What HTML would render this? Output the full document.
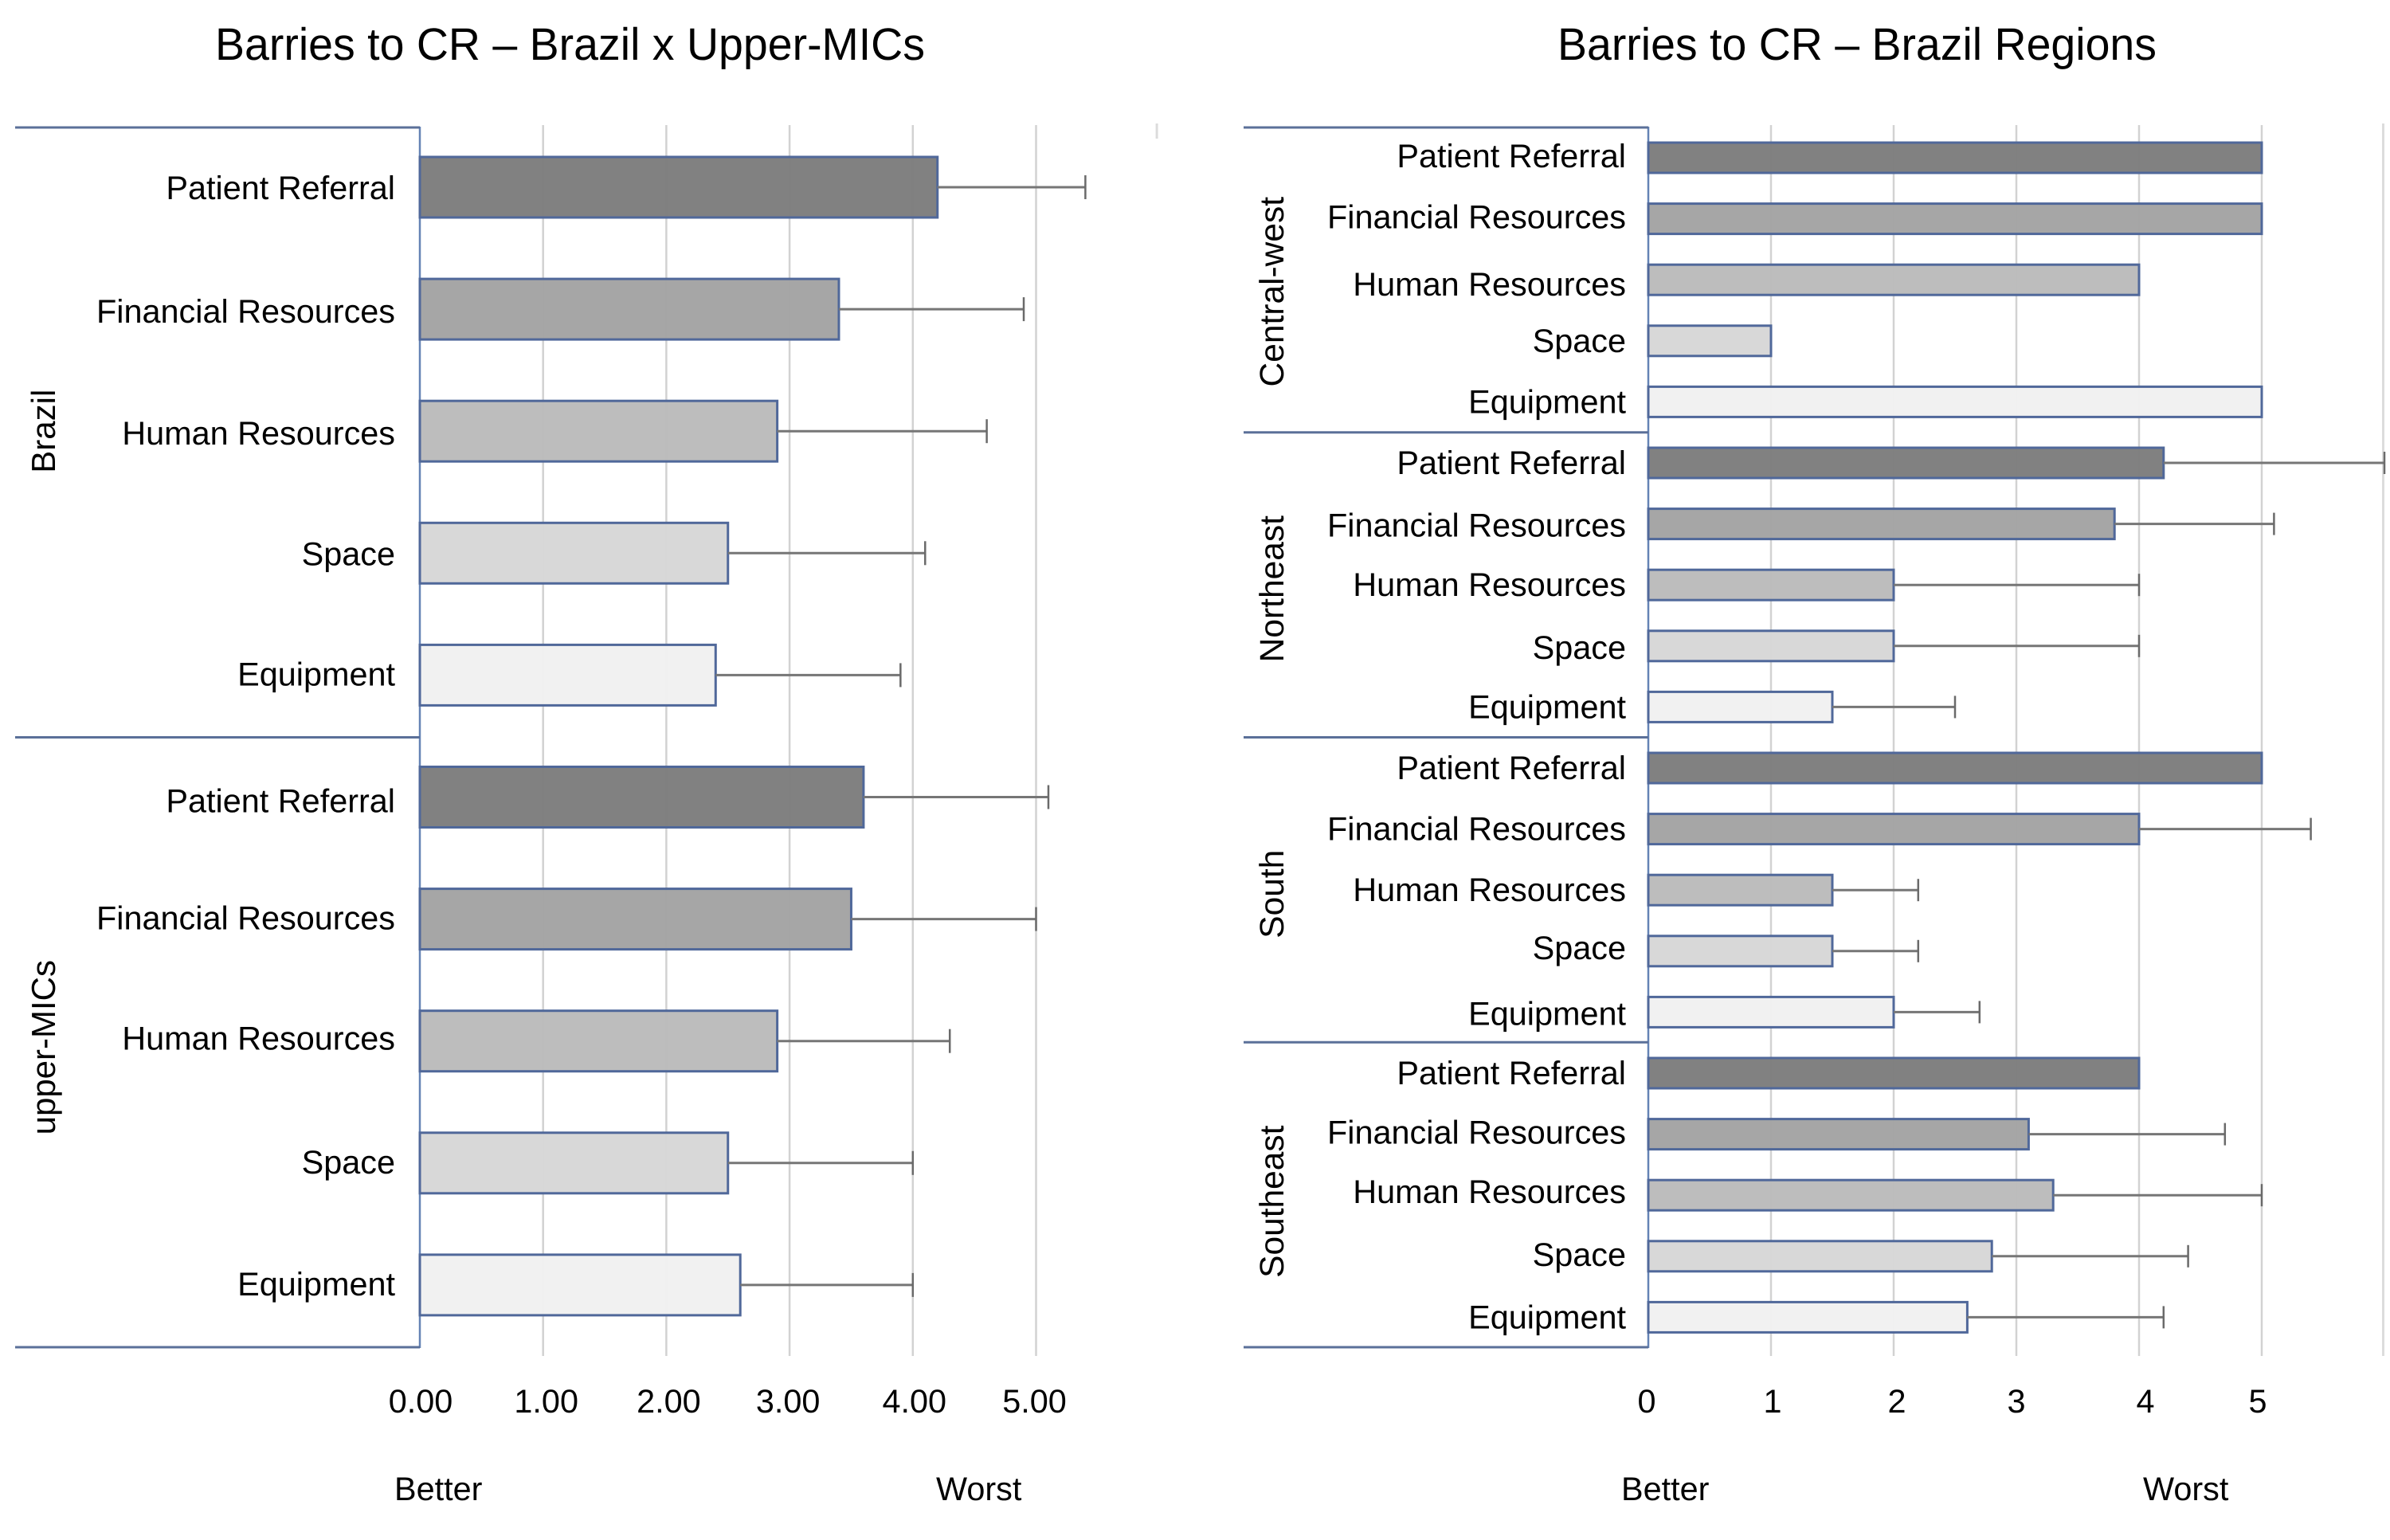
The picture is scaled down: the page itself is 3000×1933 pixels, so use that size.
<!DOCTYPE html>
<html lang="en">
<head>
<meta charset="utf-8">
<title>Barries to CR</title>
<style>
html,body{margin:0;padding:0;background:#fff;width:3000px;height:1933px;overflow:hidden}
svg{display:block}
text{font-family:"Liberation Sans",Arial,sans-serif;fill:#000;text-rendering:geometricPrecision}
</style>
</head>
<body>
<svg id="chart" xmlns="http://www.w3.org/2000/svg" width="3000" height="1933" viewBox="0 0 3000 1933">
  <rect x="0" y="0" width="3000" height="1933" fill="#ffffff"/>
  <text x="270" y="75" font-size="57" textLength="891" lengthAdjust="spacingAndGlyphs">Barries to CR – Brazil x Upper-MICs</text>
  <text x="1955" y="75" font-size="57" textLength="752" lengthAdjust="spacingAndGlyphs">Barries to CR – Brazil Regions</text>
  <text x="495" y="1883" font-size="41.4">Better</text>
  <text x="1175" y="1883" font-size="41.4">Worst</text>
  <text x="2035" y="1883" font-size="41.4">Better</text>
  <text x="2690" y="1883" font-size="41.4">Worst</text>
</svg>
<script>
const categories = ['Patient Referral', 'Financial Resources', 'Human Resources', 'Space', 'Equipment'];

const leftGroups = ['Brazil', 'upper-MICs'];
const brazilValues = [4.2, 3.4, 2.9, 2.5, 2.4];
const brazilUpper = [5.4, 4.9, 4.6, 4.1, 3.9];
const upperMicsValues = [3.6, 3.5, 2.9, 2.5, 2.6];
const upperMicsUpper = [5.1, 5.0, 4.3, 4.0, 4.0];
const leftTickValues = [0, 1, 2, 3, 4, 5];
const leftTickLabels = ['0.00', '1.00', '2.00', '3.00', '4.00', '5.00'];

const rightGroups = ['Central-west', 'Northeast', 'South', 'Southeast'];
const centralWestValues = [5, 5, 4, 1, 5];
const centralWestUpper = [null, null, null, null, null];
const northeastValues = [4.2, 3.8, 2, 2, 1.5];
const northeastUpper = [6, 5.1, 4, 4, 2.5];
const southValues = [5, 4, 1.5, 1.5, 2];
const southUpper = [null, 5.4, 2.2, 2.2, 2.7];
const southeastValues = [4, 3.1, 3.3, 2.8, 2.6];
const southeastUpper = [null, 4.7, 5, 4.4, 4.2];
const rightTickValues = [0, 1, 2, 3, 4, 5];
const rightTickLabels = ['0', '1', '2', '3', '4', '5'];

const svg = document.getElementById('chart');
const NS = 'http://www.w3.org/2000/svg';
const barFills = ['#7d7d7d', '#a3a3a3', '#bbbbbb', '#d7d7d7', '#f1f1f1'];

function make(tag, attrs, content) {
  const el = document.createElementNS(NS, tag);
  for (const k in attrs) el.setAttribute(k, attrs[k]);
  if (content !== undefined) el.textContent = content;
  svg.appendChild(el);
  return el;
}

function drawPanel(cfg) {
  const x = cfg.x;
  const y = cfg.y;

  // gridlines
  cfg.tickValues.forEach(function (t) {
    if (t === 0) return;
    const g = make('line', {x1: x(t), x2: x(t), y1: 157, y2: 1702, stroke: '#d2d2d2', 'stroke-width': 2.5});
    
    
  });
  const extra = make('line', {x1: x(cfg.extraGrid), x2: x(cfg.extraGrid), y1: 155, y2: cfg.extraGridEnd, stroke: '#dcdcdc', 'stroke-width': 3});
  
  

  // tick labels
  cfg.tickValues.forEach(function (t, i) {
    const tl = make('text', {x: x(t) + cfg.tickNudge[i], y: 1773, 'font-size': 41.4, 'text-anchor': 'middle'}, cfg.tickLabels[i]);
    
    
  });

  // vertical axis
  const axis = make('line', {x1: x(0), x2: x(0), y1: 159, y2: 1692, stroke: '#6583b5', 'stroke-width': 2.5});
  
  

  // group separators
  for (let g = 0; g <= cfg.series.length; g++) {
    const sepY = cfg.sepTop + (cfg.sepBottom - cfg.sepTop) * g / cfg.series.length;
    const sep = make('line', {x1: cfg.sepLeft, x2: x(0), y1: sepY, y2: sepY, stroke: '#5b7099', 'stroke-width': 3});
    
    
  }

  // rows
  cfg.series.forEach(function (s, g) {
    const first = y(g * categories.length);
    const last = y(g * categories.length + categories.length - 1);
    const mid = (first + last) / 2 + cfg.groupLabelShift[g];
    const gl = make('text', {x: cfg.groupX, y: mid, 'font-size': cfg.groupFont, 'text-anchor': 'middle', transform: 'rotate(-90 ' + cfg.groupX + ' ' + mid + ')'}, cfg.groups[g]);
    
    

    categories.forEach(function (c, i) {
      const row = g * categories.length + i;
      const cy = y(row);
      const v = s.values[i];
      const up = s.upper[i];

      const lab = make('text', {x: cfg.labelX, y: cy + cfg.labelDy + cfg.labelNudge[row], 'font-size': 41.4, 'text-anchor': 'end'}, c);
      
      

      const bar = make('rect', {x: x(0), y: cy - cfg.barH / 2, width: x(v) - x(0), height: cfg.barH, fill: barFills[i], 'fill-opacity': 0.97, stroke: '#50689a', 'stroke-width': 3});
      
      

      if (up !== null) {
        const w = make('line', {x1: x(v), x2: x(up), y1: cy, y2: cy, stroke: '#767676', 'stroke-width': 3});
        
        
        const cap = make('line', {x1: x(up), x2: x(up), y1: cy - cfg.capH / 2, y2: cy + cfg.capH / 2, stroke: '#6a6a6a', 'stroke-width': 2.5});
        
        
      }
    });
  });
}

drawPanel({
  prefix: 'left',
  x: function (v) { return 527 + 154.7 * v; },
  y: function (r) { return 235 + 153.1 * r; },
  series: [
    {values: brazilValues, upper: brazilUpper},
    {values: upperMicsValues, upper: upperMicsUpper}
  ],
  groups: leftGroups,
  groupLabelShift: [0, 8],
  groupFont: 42,
  tickValues: leftTickValues,
  tickLabels: leftTickLabels,
  tickNudge: [1, 4, 3, -2, 2, -2],
  labelNudge: [0, 2, 2, 0, -2, 4, -2, -4, -2, -2],
  extraGrid: 5.98,
  extraGridEnd: 174,
  sepTop: 160,
  sepBottom: 1691,
  sepLeft: 19,
  groupX: 69,
  labelX: 496,
  labelDy: 15,
  barH: 76,
  capH: 30
});

drawPanel({
  prefix: 'right',
  x: function (v) { return 2069 + 154 * v; },
  y: function (r) { return 198 + 76.6 * r; },
  series: [
    {values: centralWestValues, upper: centralWestUpper},
    {values: northeastValues, upper: northeastUpper},
    {values: southValues, upper: southUpper},
    {values: southeastValues, upper: southeastUpper}
  ],
  groups: rightGroups,
  groupLabelShift: [15, 5, 5, 8],
  groupFont: 42.5,
  tickValues: rightTickValues,
  tickLabels: rightTickLabels,
  tickNudge: [-2, 2, 4, 0, 8, -5],
  labelNudge: [-2, -2, 6, 0, 0, 0, 2, 0, 2, 0, 0, 0, 0, -4, 2, 0, -2, -4, -2, 0],
  extraGrid: 5.99,
  extraGridEnd: 1702,
  sepTop: 160,
  sepBottom: 1691,
  sepLeft: 1561,
  groupX: 1611,
  labelX: 2041,
  labelDy: 14,
  barH: 38,
  capH: 28
});
</script>
</body>
</html>
